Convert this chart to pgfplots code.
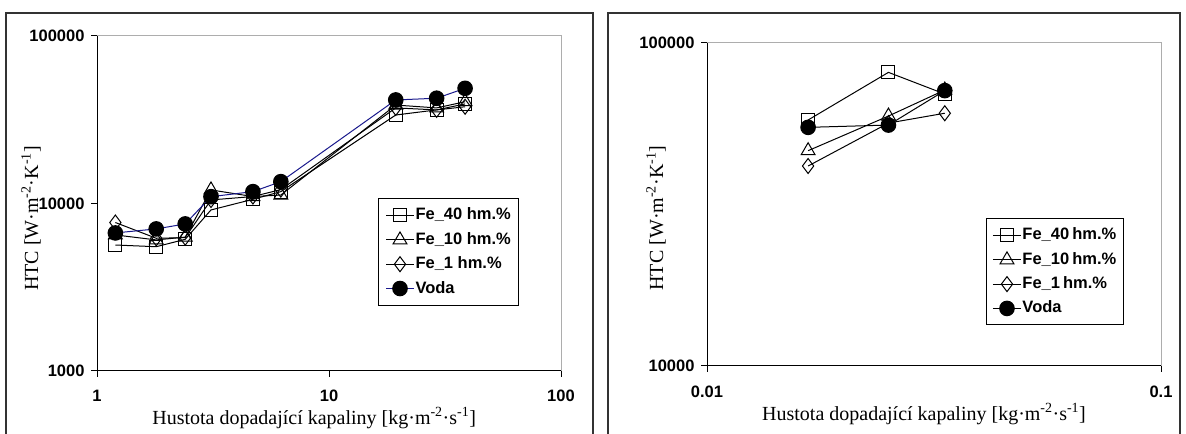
\documentclass[border=0pt]{standalone}
\usepackage{fontspec}
\setmainfont{Liberation Serif}
\setsansfont{Liberation Sans}
\usepackage{pgfplots}
\pgfplotsset{compat=1.18}
\definecolor{vodablue}{rgb}{0.1,0.1,0.55}
\definecolor{framegray}{gray}{0.2}
\definecolor{plotgray}{gray}{0.68}
\newcommand{\legfont}{\sffamily\bfseries\fontsize{16.5bp}{16.5bp}\selectfont}
\tikzset{
  sforty/.style={black, line width=1bp, mark=square, mark size=6.5bp, mark options={solid, line width=1bp}},
  sten/.style={black, line width=1bp, mark=triangle, mark size=8bp, mark options={solid, line width=1bp}},
  sone/.style={black, line width=1bp, mark=diamond, mark size=7.5bp, mark options={solid, line width=1bp}},
  svoda/.style={line width=1bp, mark=*, mark size=7.3bp, mark options={solid, fill=black, draw=black}},
}
\pgfplotsset{
  legend image code/.code={\draw[mark repeat=2,mark phase=2,#1] plot coordinates {(0bp,0bp) (14bp,0bp) (28bp,0bp)};},
}
\begin{document}
\begin{tikzpicture}[x=1bp,y=1bp]
\path[use as bounding box] (0,0) rectangle (1186,434);
\draw[framegray, line width=1.5bp] (6,-3) -- (6,421) -- (593,421) -- (593,-3);
\draw[framegray, line width=1.5bp] (608,-3) -- (608,421) -- (1180,421) -- (1180,-3);

% left panel
\begin{axis}[
  xmode=log, ymode=log, scale only axis,
  axis lines=left, axis line style={-, black, line width=1bp},
  tick align=outside, major tick length=6bp, tick style={black, line width=1bp},
  xminorticks=false, yminorticks=false,
  tick label style={font=\sffamily\bfseries\fontsize{16.5bp}{16.5bp}\selectfont},
  xticklabel style={yshift=-10bp},
  yticklabel style={xshift=-3bp},
  label style={font=\rmfamily\fontsize{20bp}{22bp}\selectfont},
  clip=false,
  legend cell align=left,
  legend style={draw=black, line width=1bp, fill=white, anchor=north west,
    font=\legfont,
    inner xsep=7bp, inner ysep=9bp, row sep=9.3bp,
    nodes={inner xsep=1bp, inner ysep=0bp, text height=12bp, text depth=3bp},
    at={(axis description cs:0.6056,0.516)}},
  at={(97bp,63bp)}, anchor=south west, width=464bp, height=335bp,
  xmin=1, xmax=100, ymin=1000, ymax=100000,
  xtick={1,10,100}, xticklabels={1,10,100},
  ytick={1000,10000,100000}, yticklabels={1000,10000,100000},
  xlabel={Hustota dopadající kapaliny [kg·m\textsuperscript{-2}·s\textsuperscript{-1}]},
  ylabel={HTC [W·m\textsuperscript{-2}·K\textsuperscript{-1}]},
  xlabel style={at={(axis description cs:0.468,-0.140)}, anchor=center},
  ylabel style={at={(axis description cs:-0.142,0.455)}, anchor=center},
]
\draw[plotgray, line width=1bp] (rel axis cs:0,1) -- (rel axis cs:1,1) -- (rel axis cs:1,0);
\addplot[sforty] coordinates {(1.2,5650) (1.8,5520) (2.4,6110) (3.1,9150) (4.7,10590) (6.2,11770) (19.4,33750) (29.1,36200) (38.6,39300)};
\addlegendentry{Fe\_40 hm.\%}
\addplot[sten] coordinates {(1.2,6490) (1.8,6060) (2.4,6300) (3.1,12050) (4.7,11000) (6.2,11230) (19.4,38700) (29.1,37200) (38.6,40500)};
\addlegendentry{Fe\_10 hm.\%}
\addplot[sone] coordinates {(1.2,7700) (1.8,6200) (2.4,6250) (3.1,10500) (4.7,11000) (6.2,12100) (19.4,37200) (29.1,36200) (38.6,37800)};
\addlegendentry{Fe\_1 hm.\%}
\addplot[svoda, vodablue] coordinates {(1.2,6670) (1.8,7050) (2.4,7550) (3.1,10980) (4.7,11770) (6.2,13500) (19.4,41500) (29.1,42500) (38.6,48700)};
\addlegendentry{Voda}
\end{axis}

% right panel
\begin{axis}[
  xmode=log, ymode=log, scale only axis,
  axis lines=left, axis line style={-, black, line width=1bp},
  tick align=outside, major tick length=6bp, tick style={black, line width=1bp},
  xminorticks=false, yminorticks=false,
  tick label style={font=\sffamily\bfseries\fontsize{16.5bp}{16.5bp}\selectfont},
  xticklabel style={yshift=-10bp},
  yticklabel style={xshift=-3bp},
  label style={font=\rmfamily\fontsize{20bp}{22bp}\selectfont},
  clip=false,
  legend cell align=left,
  legend style={draw=black, line width=1bp, fill=white, anchor=north west,
    font=\legfont,
    inner xsep=6bp, inner ysep=9bp, row sep=9.3bp,
    nodes={inner xsep=1bp, inner ysep=0bp, text height=12bp, text depth=3bp},
    at={(axis description cs:0.6145,0.458)}},
  at={(707bp,68bp)}, anchor=south west, width=454bp, height=323bp,
  xmin=0.01, xmax=0.1, ymin=10000, ymax=100000,
  xtick={0.01,0.1}, xticklabels={0.01,0.1},
  ytick={10000,100000}, yticklabels={10000,100000},
  xlabel={Hustota dopadající kapaliny [kg·m\textsuperscript{-2}·s\textsuperscript{-1}]},
  ylabel={HTC [W·m\textsuperscript{-2}·K\textsuperscript{-1}]},
  xlabel style={at={(axis description cs:0.478,-0.149)}, anchor=center},
  ylabel style={at={(axis description cs:-0.1123,0.458)}, anchor=center},
]
\draw[plotgray, line width=1bp] (rel axis cs:0,1) -- (rel axis cs:1,1) -- (rel axis cs:1,0);
\addplot[sforty] coordinates {(0.0167,57750) (0.0251,81100) (0.0334,69500)};
\addlegendentry{Fe\_40\hspace{3bp}hm.\%}
\addplot[sten] coordinates {(0.0167,46400) (0.0251,59400) (0.0334,71500)};
\addlegendentry{Fe\_10\hspace{3bp}hm.\%}
\addplot[sone] coordinates {(0.0167,41600) (0.0251,56500) (0.0334,60600)};
\addlegendentry{Fe\_1\hspace{3bp}hm.\%}
\addplot[svoda, black] coordinates {(0.0167,54800) (0.0251,55700) (0.0334,71200)};
\addlegendentry{Voda}
\end{axis}
\end{tikzpicture}
\end{document}
